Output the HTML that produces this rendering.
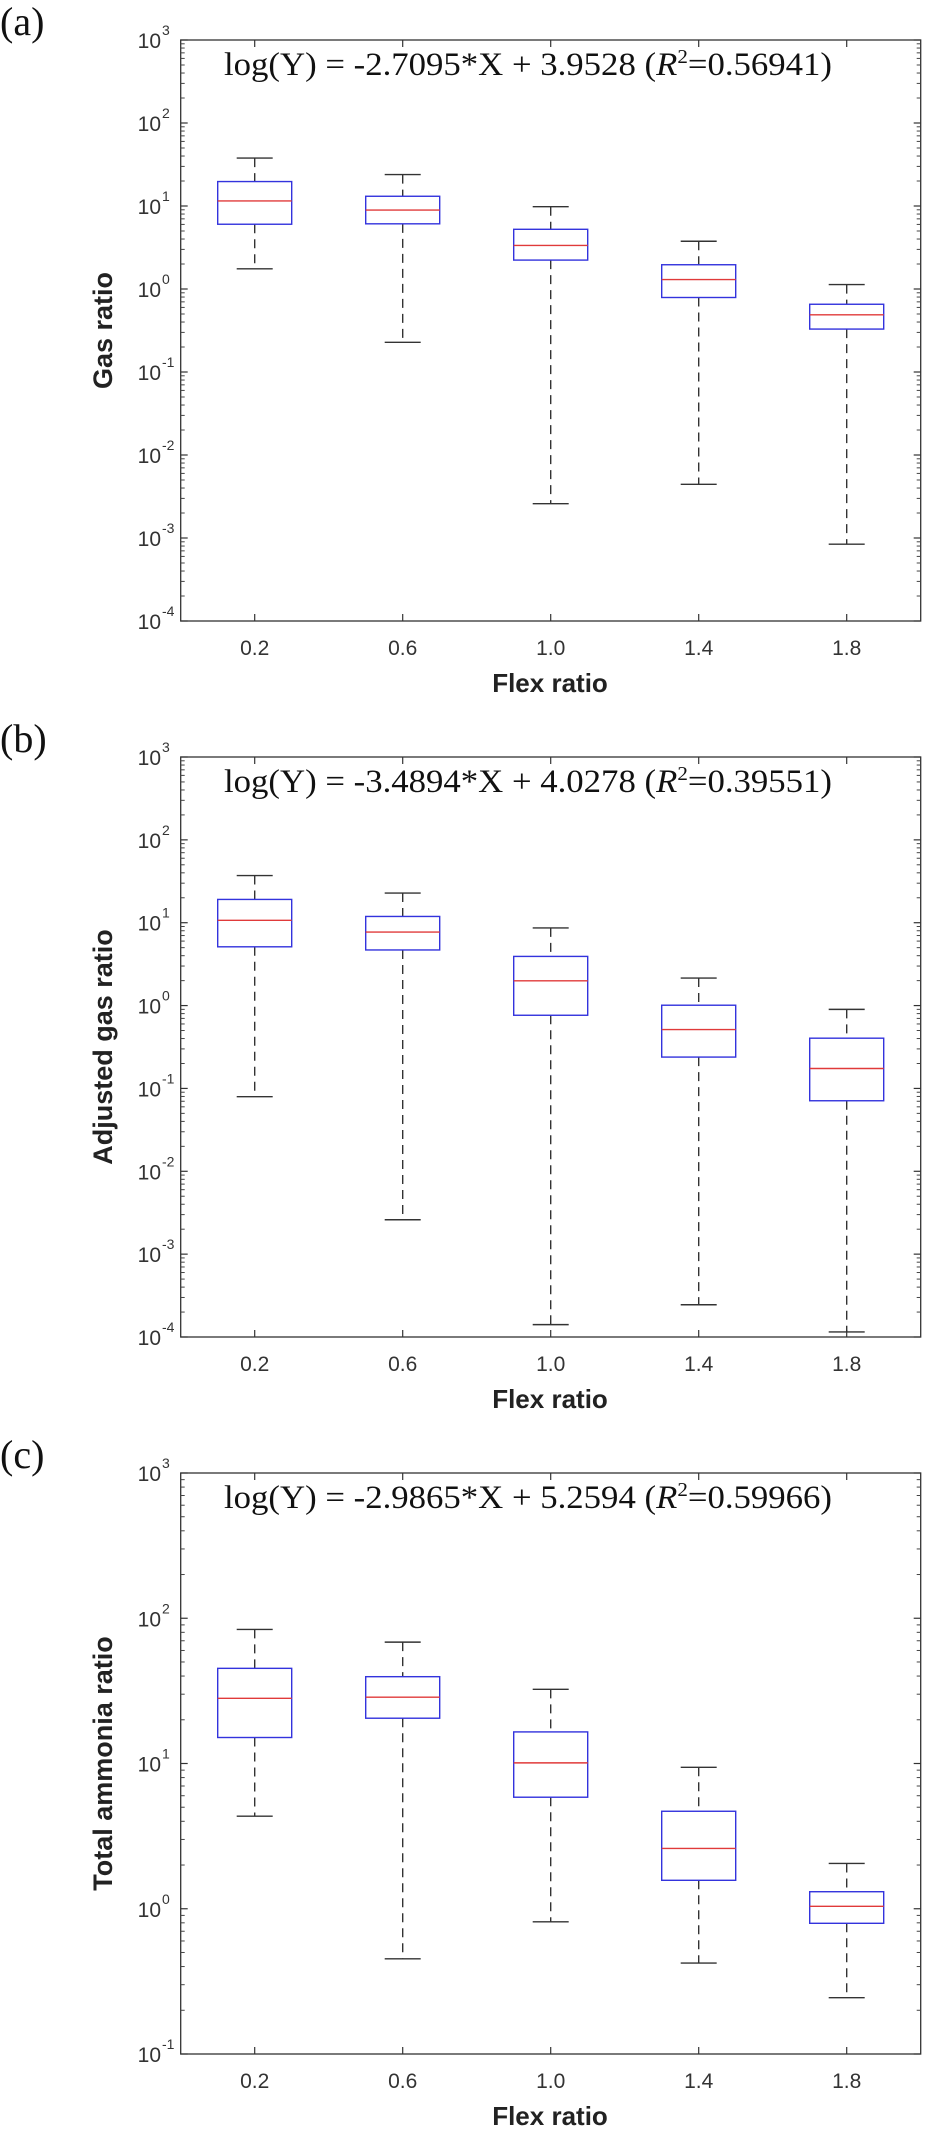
<!DOCTYPE html>
<html><head><meta charset="utf-8"><style>
html,body{margin:0;padding:0;background:#fff;}
svg{display:block;}
</style></head><body>
<svg id="fig" width="929" height="2134" viewBox="0 0 929 2134" xmlns="http://www.w3.org/2000/svg"></svg>
<script>
const categories = ["0.2","0.6","1.0","1.4","1.8"];
const catX = [0.2,0.6,1.0,1.4,1.8];
// Panel (a) Gas ratio
const aHigh = [37.8, 23.9, 9.8, 3.76, 1.13];
const aQ3   = [19.7, 13.1, 5.24, 1.96, 0.655];
const aMed  = [11.5, 8.93, 3.35, 1.30, 0.489];
const aQ1   = [6.03, 6.10, 2.23, 0.79, 0.329];
const aLow  = [1.75, 0.228, 0.00259, 0.00443, 0.000843];
// Panel (b) Adjusted gas ratio
const bHigh = [37.1, 22.8, 8.65, 2.15, 0.90];
const bQ3   = [19.1, 11.9, 3.92, 1.01, 0.404];
const bMed  = [10.7, 7.71, 1.99, 0.514, 0.174];
const bQ1   = [5.12, 4.69, 0.764, 0.239, 0.071];
const bLow  = [0.0796, 0.0026, 0.000141, 0.000245, 0.000115];
// Panel (c) Total ammonia ratio
const cHigh = [83.8, 68.5, 32.4, 9.42, 2.05];
const cQ3   = [45.2, 39.6, 16.5, 4.69, 1.31];
const cMed  = [28.1, 28.6, 10.1, 2.60, 1.04];
const cQ1   = [15.1, 20.5, 5.86, 1.57, 0.794];
const cLow  = [4.34, 0.452, 0.813, 0.423, 0.244];
const abExp = [-4,-3,-2,-1,0,1,2,3];
const cExp  = [-1,0,1,2,3];

const NS = "http://www.w3.org/2000/svg";
const svg = document.getElementById('fig');
function mk(tag, attrs, parent){
  const e = document.createElementNS(NS, tag);
  for (const k in attrs) e.setAttribute(k, attrs[k]);
  (parent||svg).appendChild(e);
  return e;
}
const X0 = 180.7, X1 = 920.7;
function xs(v){ return X0 + (v-0)/(2.0-0)*(X1-X0); }

function panel(id, label, top, bottom, exps, hi, q3, med, q1, lo, ylabel, eq, r2){
  const g = mk('g', {});
  
  
  const eMin = exps[0], eMax = exps[exps.length-1];
  const ys = v => bottom - (Math.log10(v)-eMin)/(eMax-eMin)*(bottom-top);
  const pl = mk('text', {x:0, y:top-5, 'font-family':'Liberation Serif, serif', 'font-size':40, fill:'#111'}, g);
  pl.textContent = '('+label+')';
  
  
  const box = mk('rect', {x:X0, y:top, width:X1-X0, height:bottom-top, fill:'none', stroke:'#333', 'stroke-width':1.3}, g);
  
  
  exps.forEach((e,i)=>{
    const y = ys(Math.pow(10,e));
    mk('line', {x1:X0, x2:X0+7, y1:y, y2:y, stroke:'#333', 'stroke-width':1.2}, g);
    mk('line', {x1:X1, x2:X1-7, y1:y, y2:y, stroke:'#333', 'stroke-width':1.2}, g);
    const t = mk('text', {x:161, y:y+8, 'text-anchor':'end', 'font-family':'Liberation Sans, sans-serif', 'font-size':21, fill:'#333'}, g);
    t.textContent = '10';
    
    
    const s = mk('text', {x:162, y:y-5, 'font-family':'Liberation Sans, sans-serif', 'font-size':14, fill:'#333'}, g);
    s.textContent = String(e);
    if (i < exps.length-1){
      for (let m=2;m<=9;m++){
        const ym = ys(m*Math.pow(10,e));
        mk('line', {x1:X0, x2:X0+4, y1:ym, y2:ym, stroke:'#444', 'stroke-width':1}, g);
        mk('line', {x1:X1, x2:X1-4, y1:ym, y2:ym, stroke:'#444', 'stroke-width':1}, g);
      }
    }
  });
  catX.forEach((c,i)=>{
    const x = xs(c);
    mk('line', {x1:x, x2:x, y1:bottom, y2:bottom-7, stroke:'#333', 'stroke-width':1.2}, g);
    mk('line', {x1:x, x2:x, y1:top, y2:top+7, stroke:'#333', 'stroke-width':1.2}, g);
    const t = mk('text', {x:x, y:bottom+34, 'text-anchor':'middle', 'font-family':'Liberation Sans, sans-serif', 'font-size':21, fill:'#333'}, g);
    t.textContent = categories[i];
    
    
  });
  catX.forEach((c,i)=>{
    const x = xs(c), hw = 37, cw = 18;
    const bg = mk('g', {}, g);
    
    
    mk('line', {x1:x, x2:x, y1:ys(hi[i]), y2:ys(q3[i]), stroke:'#333', 'stroke-width':1.4, 'stroke-dasharray':'9,6'}, bg);
    mk('line', {x1:x, x2:x, y1:ys(q1[i]), y2:ys(lo[i]), stroke:'#333', 'stroke-width':1.4, 'stroke-dasharray':'9,6'}, bg);
    mk('line', {x1:x-cw, x2:x+cw, y1:ys(hi[i]), y2:ys(hi[i]), stroke:'#333', 'stroke-width':1.4}, bg);
    mk('line', {x1:x-cw, x2:x+cw, y1:ys(lo[i]), y2:ys(lo[i]), stroke:'#333', 'stroke-width':1.4}, bg);
    mk('rect', {x:x-hw, y:ys(q3[i]), width:2*hw, height:ys(q1[i])-ys(q3[i]), fill:'none', stroke:'#3333dd', 'stroke-width':1.4}, bg);
    mk('line', {x1:x-hw, x2:x+hw, y1:ys(med[i]), y2:ys(med[i]), stroke:'#e03a3a', 'stroke-width':1.4}, bg);
  });
  const eqt = mk('text', {x:224, y:top+35, 'font-family':'Liberation Serif, serif', 'font-size':33, fill:'#111', textLength:608, lengthAdjust:'spacingAndGlyphs'}, g);
  
  
  eqt.appendChild(document.createTextNode(eq+' ('));
  const r = mk('tspan', {'font-style':'italic'}, eqt); r.textContent='R';
  const sup = mk('tspan', {'font-size':20, dy:-12}, eqt); sup.textContent='2';
  const rest = mk('tspan', {dy:12}, eqt); rest.textContent='='+r2+')';
  const xl = mk('text', {x:550, y:bottom+71, 'text-anchor':'middle', 'font-family':'Liberation Sans, sans-serif', 'font-weight':'bold', 'font-size':26, fill:'#222'}, g);
  xl.textContent = 'Flex ratio';
  
  
  const cy = (top+bottom)/2;
  const yl = mk('text', {x:0, y:0, transform:'translate(112,'+cy+') rotate(-90)', 'text-anchor':'middle', 'font-family':'Liberation Sans, sans-serif', 'font-weight':'bold', 'font-size':27, fill:'#222'}, g);
  yl.textContent = ylabel;
  
  
}
panel('a','a',40,621,abExp,aHigh,aQ3,aMed,aQ1,aLow,'Gas ratio','log(Y) = -2.7095*X + 3.9528','0.56941');
panel('b','b',757,1337,abExp,bHigh,bQ3,bMed,bQ1,bLow,'Adjusted gas ratio','log(Y) = -3.4894*X + 4.0278','0.39551');
panel('c','c',1473,2054,cExp,cHigh,cQ3,cMed,cQ1,cLow,'Total ammonia ratio','log(Y) = -2.9865*X + 5.2594','0.59966');
</script>
</body></html>
